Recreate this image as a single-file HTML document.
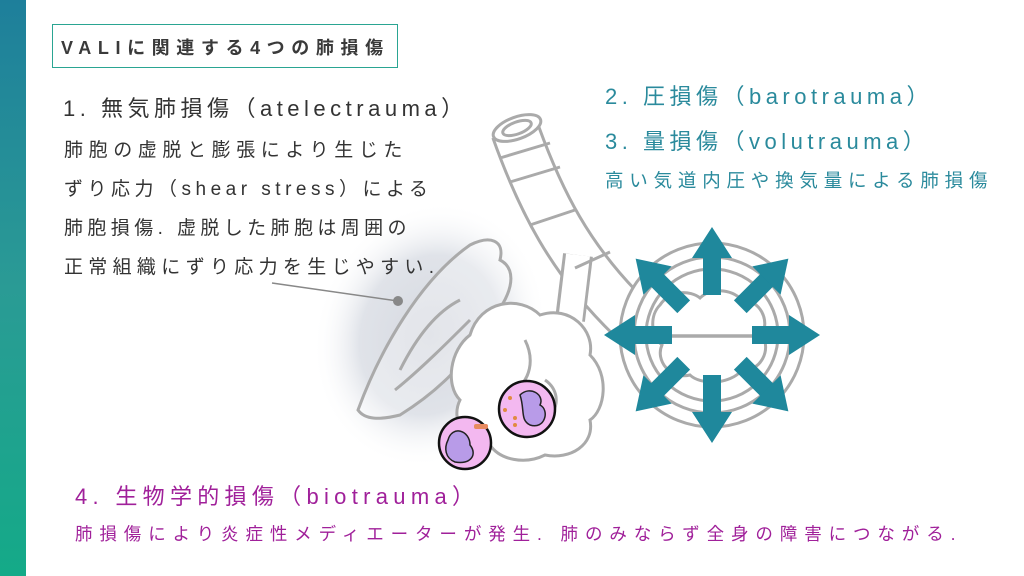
<!DOCTYPE html>
<html><head><meta charset="utf-8"><style>
body{margin:0;width:1024px;height:576px;background:#fff;position:relative;overflow:hidden;font-family:"Liberation Sans","Noto Sans CJK JP",sans-serif;}
.bar{position:absolute;left:0;top:0;width:26px;height:576px;background:linear-gradient(#1e7f9b,#2a9b95 50%,#14aa88);}
.t{position:absolute;white-space:nowrap;z-index:2;}
.title{left:52px;top:24px;width:346px;height:44px;border:1.5px solid #2aa592;box-sizing:border-box;}
.title span{position:absolute;left:8px;top:9px;font-size:18px;font-weight:bold;letter-spacing:6.6px;color:#3a3a3a;}
.h{font-size:22px;letter-spacing:4.5px;}
.b{font-size:19px;letter-spacing:5.6px;color:#333;}
svg{z-index:1}
</style></head><body>
<div class="bar"></div>
<svg style="position:absolute;left:0;top:0" width="1024" height="576">
<defs><radialGradient id="g"><stop offset="0" stop-color="#d6d9e0"/><stop offset="0.6" stop-color="#e0e3e9"/><stop offset="1" stop-color="#fff" stop-opacity="0"/></radialGradient></defs>
<ellipse cx="430" cy="335" rx="115" ry="135" fill="url(#g)" transform="rotate(20 430 335)"/>
<g fill="none" stroke="#aaa" stroke-width="3">
<path d="M358 410 C380 350 420 280 470 245 C490 235 505 240 500 260 C520 270 510 300 490 320 C470 360 440 390 400 415 C380 420 365 420 358 410Z" fill="#fff" fill-opacity="0.3"/>
<path d="M400 370 C420 330 440 310 460 300 M395 390 C420 370 450 340 470 320"/>
</g>
<path d="M515 130 C540 200 570 260 630 318" fill="none" stroke="#aaa" stroke-width="50"/>
<path d="M515 130 C540 200 570 260 630 318" fill="none" stroke="#fff" stroke-width="44"/>
<path d="M578 255 L570 320" fill="none" stroke="#aaa" stroke-width="30"/>
<path d="M578 255 L570 322" fill="none" stroke="#fff" stroke-width="24"/>
<g fill="none" stroke="#aaa" stroke-width="3">
<ellipse cx="517" cy="128" rx="25" ry="11" transform="rotate(-20 517 128)" fill="#fff"/>
<ellipse cx="517" cy="128" rx="15" ry="6" transform="rotate(-20 517 128)"/>
<path d="M500 158 L550 143 M510 182 L560 167 M530 225 L575 210 M575 268 L610 252"/>
<path d="M470 335 C480 300 520 295 540 315 C570 305 595 330 590 355 C610 375 605 410 590 420 C595 445 570 460 545 455 C525 465 500 460 490 445 C465 445 450 420 460 400 C445 385 450 350 470 335Z" fill="#fff"/>
<path d="M525 340 C535 360 530 380 515 390 M545 380 C560 390 560 410 545 420"/>
<circle cx="712" cy="335" r="92" fill="#fff"/>
<circle cx="712" cy="335" r="78"/>
<circle cx="712" cy="335" r="66"/>
<path d="M660 305 C670 290 690 290 700 298 C710 288 730 288 742 300 C760 300 770 320 762 335 C772 350 760 372 742 370 C730 385 700 385 690 375 C670 380 655 360 662 345 C650 335 650 315 660 305Z"/>
<path d="M668 336 L757 336" stroke-width="3.5"/>
</g>
<path d="M272 283 L398 301" stroke="#888" stroke-width="1.5"/>
<circle cx="398" cy="301" r="5" fill="#888"/>
<g fill="#1f889c">
<g id="a"><rect x="703" y="255" width="18" height="40"/><polygon points="692,258 732,258 712,227"/></g>
<use href="#a" transform="rotate(45 712 335)"/><use href="#a" transform="rotate(90 712 335)"/><use href="#a" transform="rotate(135 712 335)"/><use href="#a" transform="rotate(180 712 335)"/><use href="#a" transform="rotate(225 712 335)"/><use href="#a" transform="rotate(270 712 335)"/><use href="#a" transform="rotate(315 712 335)"/>
</g>
<circle cx="527" cy="409" r="28" fill="#f3b8f0" stroke="#111" stroke-width="2.5"/>
<path d="M520 395 C530 385 545 395 540 405 C550 410 545 430 530 425 C520 420 525 410 520 395Z" fill="#b89be8" stroke="#222" stroke-width="1.5"/>
<g fill="#e08a40"><circle cx="505" cy="410" r="2"/><circle cx="515" cy="418" r="2"/><circle cx="510" cy="398" r="2"/><circle cx="515" cy="425" r="2"/></g>
<circle cx="465" cy="443" r="26" fill="#f3b8f0" stroke="#111" stroke-width="2.5"/>
<path d="M448 440 C452 425 470 430 470 445 C478 455 470 465 455 462 C445 458 444 448 448 440Z" fill="#b89be8" stroke="#222" stroke-width="1.5"/>
<rect x="474" y="424" width="14" height="5" rx="2" fill="#e88a60"/>
</svg>
<div class="t title"><span>VALIに関連する4つの肺損傷</span></div>
<div class="t h" style="left:63px;top:91px;color:#333">1. 無気肺損傷（atelectrauma）</div>
<div class="t b" style="left:64px;top:135px">肺胞の虚脱と膨張により生じた</div>
<div class="t b" style="left:64px;top:174px;letter-spacing:4.5px">ずり応力（shear stress）による</div>
<div class="t b" style="left:64px;top:213px;letter-spacing:4.4px">肺胞損傷. 虚脱した肺胞は周囲の</div>
<div class="t b" style="left:64px;top:252px;letter-spacing:5.3px">正常組織にずり応力を生じやすい.</div>
<div class="t h" style="left:605px;top:79px;color:#2a8a9c">2. 圧損傷（barotrauma）</div>
<div class="t h" style="left:605px;top:124px;color:#2a8a9c">3. 量損傷（volutrauma）</div>
<div class="t" style="left:605px;top:167px;font-size:18.5px;letter-spacing:5.8px;color:#2a8a9c">高い気道内圧や換気量による肺損傷</div>
<div class="t h" style="left:75px;top:479px;color:#a0209a;letter-spacing:5.3px">4. 生物学的損傷（biotrauma）</div>
<div class="t" style="left:75px;top:521px;font-size:17.5px;letter-spacing:6.9px;color:#a0209a">肺損傷により炎症性メディエーターが発生. 肺のみならず全身の障害につながる.</div>
</body></html>
